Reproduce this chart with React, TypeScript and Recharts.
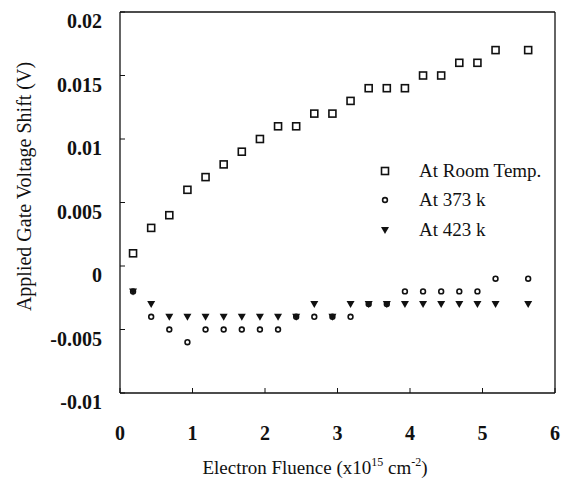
import { Legend, Scatter, ScatterChart, XAxis, YAxis } from "recharts";

const fluence = [
  0.18, 0.43, 0.68, 0.93, 1.18, 1.43, 1.68, 1.93, 2.18, 2.43, 2.68, 2.93, 3.18, 3.43, 3.68,
  3.93, 4.18, 4.43, 4.68, 4.93, 5.18, 5.63
];
const roomTemp = [
  0.001, 0.003, 0.004, 0.006, 0.007, 0.008, 0.009, 0.01, 0.011, 0.011, 0.012, 0.012, 0.013,
  0.014, 0.014, 0.014, 0.015, 0.015, 0.016, 0.016, 0.017, 0.017
];
const at373 = [
  -0.002, -0.004, -0.005, -0.006, -0.005, -0.005, -0.005, -0.005, -0.005, -0.004, -0.004,
  -0.004, -0.004, -0.003, -0.003, -0.002, -0.002, -0.002, -0.002, -0.002, -0.001, -0.001
];
const at423 = [
  -0.002, -0.003, -0.004, -0.004, -0.004, -0.004, -0.004, -0.004, -0.004, -0.004, -0.003,
  -0.004, -0.003, -0.003, -0.003, -0.003, -0.003, -0.003, -0.003, -0.003, -0.003, -0.003
];
const xTicks = [0, 1, 2, 3, 4, 5, 6];
const yTicks = [-0.01, -0.005, 0, 0.005, 0.01, 0.015, 0.02];
const seriesNames = ["At Room Temp.", "At 373 k", "At 423 k"];

const toPoints = (ys: number[]) => fluence.map((x, i) => ({ x, y: ys[i] }));

const FONT = "'Liberation Serif', 'Times New Roman', serif";

function SquareMark({ cx, cy }: any) {
  return <rect x={cx - 3.5} y={cy - 3.5} width={7} height={7} fill="none" stroke="#111" strokeWidth={1.6} />;
}

function DiamondMark({ cx, cy }: any) {
  return <circle cx={cx} cy={cy} r={2.4} fill="none" stroke="#111" strokeWidth={1.6} />;
}

function TriangleMark({ cx, cy }: any) {
  return <path d={`M${cx - 4},${cy - 3} L${cx + 4},${cy - 3} L${cx},${cy + 4} Z`} fill="#111" />;
}

const marks = [SquareMark, DiamondMark, TriangleMark];

function LegendBox() {
  return (
    <div style={{ fontFamily: FONT, fontSize: 19, color: "#111" }}>
      {seriesNames.map((name, i) => {
        const Mark = marks[i];
        return (
          <div key={name} style={{ display: "flex", alignItems: "center", height: 29.5 }}>
            <svg width={14} height={14} style={{ marginRight: 27 }}>
              <Mark cx={7} cy={7} />
            </svg>
            <span>{name}</span>
          </div>
        );
      })}
    </div>
  );
}

function XTitle() {
  return (
    <text x={315} y={474} textAnchor="middle" fontFamily={FONT} fontSize={19} fill="#111">
      Electron Fluence (x10
      <tspan fontSize={12} dy={-8}>15</tspan>
      <tspan dy={8}> cm</tspan>
      <tspan fontSize={12} dy={-8}>-2</tspan>
      <tspan dy={8}>)</tspan>
    </text>
  );
}

export default function App() {
  const tickStyle = { fontFamily: FONT, fontSize: 20, fontWeight: "bold", fill: "#111" };
  return (
    <div style={{ position: "absolute", left: 0, top: 0, background: "#fff" }}>
      <ScatterChart width={569} height={491} margin={{ top: 0, right: 0, bottom: 0, left: 0 }}>
        <XAxis
          xAxisId="top"
          orientation="top"
          type="number"
          dataKey="x"
          domain={[0, 6]}
          ticks={xTicks}
          height={12}
          tick={false}
          tickLine={false}
          axisLine={{ stroke: "#111", strokeWidth: 1.3 }}
        />
        <XAxis
          type="number"
          dataKey="x"
          domain={[0, 6]}
          ticks={xTicks}
          height={98}
          tickSize={-5}
          tickMargin={38}
          tick={tickStyle}
          axisLine={{ stroke: "#111", strokeWidth: 1.3 }}
          tickLine={{ stroke: "#111" }}
          label={{ content: () => <XTitle /> }}
        />
        <YAxis
          type="number"
          dataKey="y"
          domain={[-0.01, 0.02]}
          ticks={yTicks}
          width={120}
          tickSize={-5}
          tickMargin={23}
          tick={{ ...tickStyle, dy: 9 }}
          tickFormatter={(v: number) => String(v)}
          axisLine={{ stroke: "#111", strokeWidth: 1.3 }}
          tickLine={{ stroke: "#111" }}
          label={{
            value: "Applied Gate Voltage Shift (V)",
            angle: -90,
            position: "insideLeft",
            offset: 24,
            dy: -16,
            style: { fontFamily: FONT, fontSize: 20, fill: "#111", textAnchor: "middle" }
          }}
        />
        <YAxis
          yAxisId="right"
          orientation="right"
          type="number"
          dataKey="y"
          domain={[-0.01, 0.02]}
          ticks={yTicks}
          width={14}
          tickSize={-5}
          tick={false}
          axisLine={{ stroke: "#111", strokeWidth: 1.3 }}
          tickLine={{ stroke: "#111" }}
        />
        <Legend
          layout="vertical"
          verticalAlign="middle"
          align="center"
          content={() => <LegendBox />}
          wrapperStyle={{ left: 378, top: 156, width: 180 }}
        />
        <Scatter name={seriesNames[0]} data={toPoints(roomTemp)} shape={SquareMark} isAnimationActive={false} />
        <Scatter name={seriesNames[1]} data={toPoints(at373)} shape={DiamondMark} isAnimationActive={false} />
        <Scatter name={seriesNames[2]} data={toPoints(at423)} shape={TriangleMark} isAnimationActive={false} />
      </ScatterChart>
    </div>
  );
}
